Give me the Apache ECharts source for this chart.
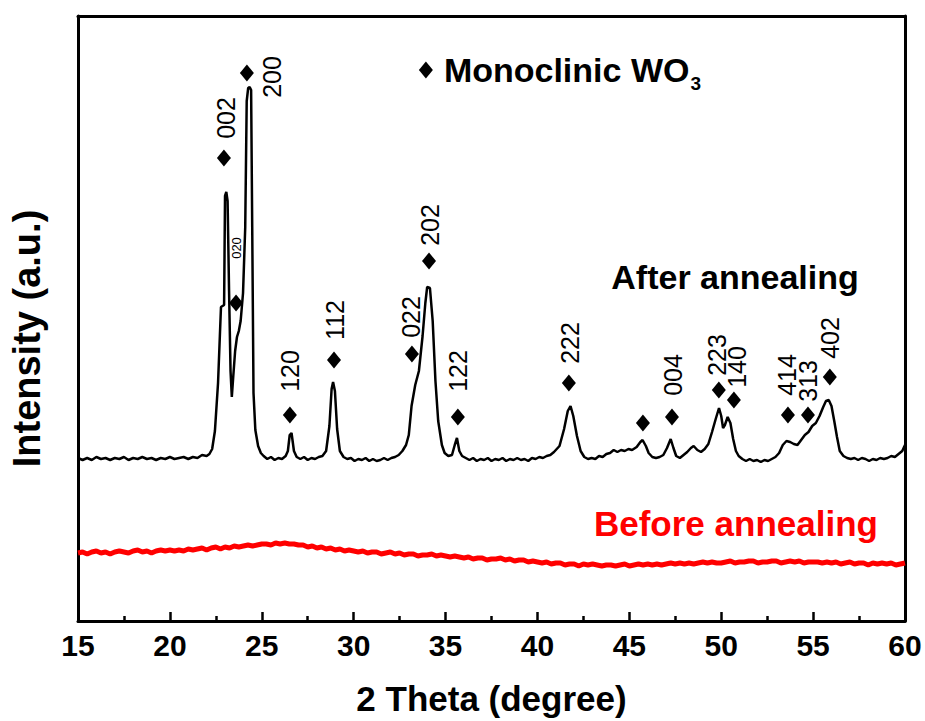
<!DOCTYPE html>
<html><head><meta charset="utf-8">
<script src="https://cdn.jsdelivr.net/npm/echarts@6/dist/echarts.min.js"></script>
<style>html,body{margin:0;padding:0;background:#fff}#c{width:925px;height:721px}</style>
</head><body><div id="c"></div>
<script>
// ---- data ----
var xTicks = [15, 20, 25, 30, 35, 40, 45, 50, 55, 60];

// After annealing: [2theta, intensity]
var afterAnnealing = [
[15.0,163],[15.25,161],[15.5,163],[15.75,161],[16.0,164],[16.25,162],[16.5,163],[16.75,161],[17.0,163],[17.25,162],[17.5,164],[17.75,161],[18.0,163],[18.25,162],[18.5,164],[18.75,162],[19.0,163],[19.25,161],[19.5,163],[19.75,162],[20.0,164],[20.25,162],[20.5,163],[20.75,164],[21.0,162],[21.25,164],[21.5,163],[21.75,166],[22.0,165],[22.15,167],[22.3,172],[22.45,190],[22.62,238],[22.78,314],[22.95,316],[23.0,425],[23.07,429],[23.14,420],[23.22,330],[23.3,250],[23.37,224],[23.45,245],[23.55,270],[23.65,284],[23.75,290],[23.85,300],[23.98,328],[24.1,394],[24.18,520],[24.26,533],[24.34,534],[24.42,531],[24.48,394],[24.55,228],[24.65,191],[24.8,175],[24.95,168],[25.1,165],[25.3,162],[25.5,164],[25.7,161],[25.9,163],[26.1,162],[26.3,165],[26.42,170],[26.52,186],[26.62,188],[26.75,170],[26.9,164],[27.1,162],[27.3,164],[27.5,161],[27.7,163],[27.9,162],[28.1,164],[28.3,165],[28.5,170],[28.68,195],[28.8,232],[28.88,239],[28.98,230],[29.1,192],[29.25,170],[29.45,164],[29.65,162],[29.85,163],[30.05,160],[30.25,162],[30.45,161],[30.65,163],[30.85,160],[31.05,162],[31.25,160],[31.45,161],[31.65,163],[31.85,161],[32.05,163],[32.25,164],[32.45,166],[32.65,170],[32.85,176],[33.0,186],[33.15,215],[33.35,236],[33.55,250],[33.75,285],[33.9,318],[34.0,334],[34.15,333],[34.3,300],[34.45,240],[34.6,200],[34.8,176],[34.95,168],[35.15,165],[35.35,166],[35.5,176],[35.62,183],[35.75,170],[35.9,165],[36.1,163],[36.3,161],[36.5,163],[36.7,160],[36.9,162],[37.1,161],[37.3,163],[37.5,160],[37.7,162],[37.9,161],[38.1,163],[38.3,160],[38.5,162],[38.7,161],[38.9,163],[39.1,161],[39.3,162],[39.5,160],[39.7,163],[39.9,162],[40.1,164],[40.3,163],[40.5,165],[40.7,166],[40.9,169],[41.2,175],[41.45,192],[41.65,210],[41.8,215],[41.95,205],[42.15,185],[42.35,170],[42.55,164],[42.75,162],[42.95,163],[43.15,162],[43.35,165],[43.55,164],[43.75,167],[43.95,168],[44.15,171],[44.35,169],[44.55,171],[44.75,170],[44.95,172],[45.15,171],[45.4,174],[45.6,179],[45.72,181],[45.9,175],[46.05,168],[46.25,164],[46.45,163],[46.65,164],[46.85,166],[47.05,173],[47.25,182],[47.4,173],[47.55,165],[47.75,163],[47.95,166],[48.15,169],[48.35,173],[48.5,175],[48.7,171],[48.9,169],[49.1,172],[49.3,177],[49.5,189],[49.7,202],[49.88,213],[50.0,205],[50.1,193],[50.2,196],[50.35,204],[50.5,198],[50.65,182],[50.8,170],[50.95,165],[51.15,162],[51.35,160],[51.55,162],[51.75,160],[51.95,161],[52.15,159],[52.35,161],[52.55,160],[52.75,162],[52.95,164],[53.15,168],[53.35,176],[53.55,180],[53.75,179],[53.95,177],[54.15,176],[54.35,181],[54.55,186],[54.75,189],[54.95,195],[55.15,198],[55.35,205],[55.55,214],[55.7,220],[55.85,221],[56.0,215],[56.15,200],[56.3,184],[56.45,170],[56.65,165],[56.85,163],[57.05,162],[57.25,163],[57.45,161],[57.65,163],[57.85,162],[58.05,160],[58.25,162],[58.45,161],[58.65,163],[58.85,162],[59.05,163],[59.25,165],[59.45,164],[59.65,167],[59.85,170],[60.0,176]
];

// Before annealing: intensities on a 0.25-degree 2theta grid from 15 to 60
var beforeStart = 15, beforeStep = 0.25;
var beforeAnnealing = [
68,69,67,69,70,68,69,67,69,70,69,68,70,71,69,70,68,70,71,70,71,
70,71,70,72,71,72,73,71,73,74,72,74,73,75,74,75,76,75,76,77,
77,76,78,77,78,77,77,76,76,74,75,73,74,72,73,71,72,70,71,70,
69,70,68,69,69,67,68,69,67,68,66,67,67,65,66,66,67,65,66,65,
64,65,64,63,64,62,63,63,61,62,62,63,61,62,60,61,61,59,60,59,
58,59,57,58,58,56,57,57,55,57,56,57,56,55,56,56,55,56,57,55,
56,57,56,57,56,57,56,57,58,57,58,57,58,57,58,59,58,59,58,58,
59,60,58,59,59,60,60,58,59,59,60,60,58,59,60,59,60,58,59,59,
59,58,59,58,59,57,58,59,57,58,58,56,58,57,58,57,58,56,57,58
];

// Peak markers (diamonds): [2theta, intensity]
var peakMarks = [[22.94,463],[24.19,548],[23.6,318],[26.53,206],[28.93,261],[33.17,267],[34.1,360],[35.67,204],[41.71,238],[45.74,198],[47.32,204],[49.87,231],[50.69,221],[53.63,206],[54.72,206],[55.91,244]];
// Peak index labels: [2theta, intensity, text]
var peakLabels = [[23.05,503,'002'],[25.56,544,'200'],[26.53,250,'120'],[28.98,301,'112'],[33.12,304,'022'],[34.15,396,'202'],[35.67,250,'122'],[41.77,278,'222'],[47.37,246,'004'],[49.77,266,'223'],[50.85,254,'140'],[53.57,246,'414'],[54.72,240,'313'],[55.91,283,'402']];
var smallLabels = [[23.65,373,'020']];
var legendMark = [[33.93,551]];
var afterName = [[50.75,344,'After annealing']];
var beforeName = [[50.8,98,'Before annealing']];

// ---- build ----
var FF = '"Liberation Sans", Arial, sans-serif';
var beforeData = beforeAnnealing.map(function(v,i){ return [beforeStart + i*beforeStep, v]; });
function txt(p){ return p.value[2]; }
var hidden = {color:'rgba(0,0,0,0)', opacity:1};

var chart = echarts.init(document.getElementById('c'), null, {renderer:'svg'});
chart.setOption({
  animation:false,
  backgroundColor:'#fff',
  grid:{left:77, right:20, top:16, bottom:100},
  xAxis:[{type:'value', min:15, max:60, interval:5,
    axisLine:{onZero:false, lineStyle:{color:'#000', width:3}},
    axisTick:{inside:true, length:9, lineStyle:{color:'#000', width:2.5}},
    minorTick:{show:true, splitNumber:2, length:5, lineStyle:{color:'#000', width:2.5}},
    splitLine:{show:false},
    axisLabel:{fontSize:30, fontWeight:'bold', color:'#000', fontFamily:FF, margin:9,
      formatter:function(v){ return xTicks.indexOf(v)>=0 ? String(v) : ''; }},
    name:'2 Theta (degree)', nameLocation:'middle', nameGap:60,
    nameTextStyle:{fontSize:35, fontWeight:'bold', color:'#000', fontFamily:FF}
  },{type:'value', position:'top', min:15, max:60,
    axisLine:{onZero:false, lineStyle:{color:'#000', width:3}},
    axisTick:{show:false}, axisLabel:{show:false}, splitLine:{show:false}}],
  yAxis:[{type:'value', min:0, max:605,
    axisLine:{show:true, onZero:false, lineStyle:{color:'#000', width:3}},
    axisTick:{show:false}, axisLabel:{show:false}, splitLine:{show:false},
    name:'Intensity (a.u.)', nameLocation:'middle', nameGap:32, nameRotate:90,
    nameTextStyle:{fontSize:38, fontWeight:'bold', color:'#000', fontFamily:FF, padding:[0,40,0,0]}
  },{type:'value', position:'right', min:0, max:605,
    axisLine:{show:true, onZero:false, lineStyle:{color:'#000', width:3}},
    axisTick:{show:false}, axisLabel:{show:false}, splitLine:{show:false}}],
  series:[
    {type:'line', data:beforeData, showSymbol:false, lineStyle:{color:'#ff0000', width:5}, z:2},
    {type:'line', data:afterAnnealing, showSymbol:false, lineStyle:{color:'#000', width:2.5}, z:3},
    {type:'scatter', data:peakMarks, symbol:'diamond', symbolSize:[14,17], itemStyle:{color:'#000', opacity:1}, z:4},
    {type:'scatter', data:legendMark, symbol:'diamond', symbolSize:[14,17], itemStyle:{color:'#000', opacity:1}, z:4,
      label:{show:true, position:'right', distance:11, color:'#000', fontFamily:FF, fontWeight:'bold', fontSize:34,
        formatter:'Monoclinic WO{s|3}', rich:{s:{fontSize:19, fontWeight:'bold', fontFamily:FF, color:'#000', padding:[26,0,0,1]}}}},
    {type:'scatter', data:peakLabels, symbolSize:1, itemStyle:hidden, z:5,
      label:{show:true, position:'inside', rotate:90, align:'center', verticalAlign:'middle', color:'#000', fontFamily:FF, fontSize:25, formatter:txt}},
    {type:'scatter', data:smallLabels, symbolSize:1, itemStyle:hidden, z:5,
      label:{show:true, position:'inside', rotate:90, align:'center', verticalAlign:'middle', color:'#000', fontFamily:FF, fontSize:13, formatter:txt}},
    {type:'scatter', data:afterName, symbolSize:1, itemStyle:hidden, z:5,
      label:{show:true, position:'inside', align:'center', verticalAlign:'middle', fontFamily:FF, fontWeight:'bold', fontSize:34, color:'#000', formatter:txt}},
    {type:'scatter', data:beforeName, symbolSize:1, itemStyle:hidden, z:5,
      label:{show:true, position:'inside', align:'center', verticalAlign:'middle', fontFamily:FF, fontWeight:'bold', fontSize:35, color:'#ff0000', formatter:txt}}
  ]
});
</script></body></html>
